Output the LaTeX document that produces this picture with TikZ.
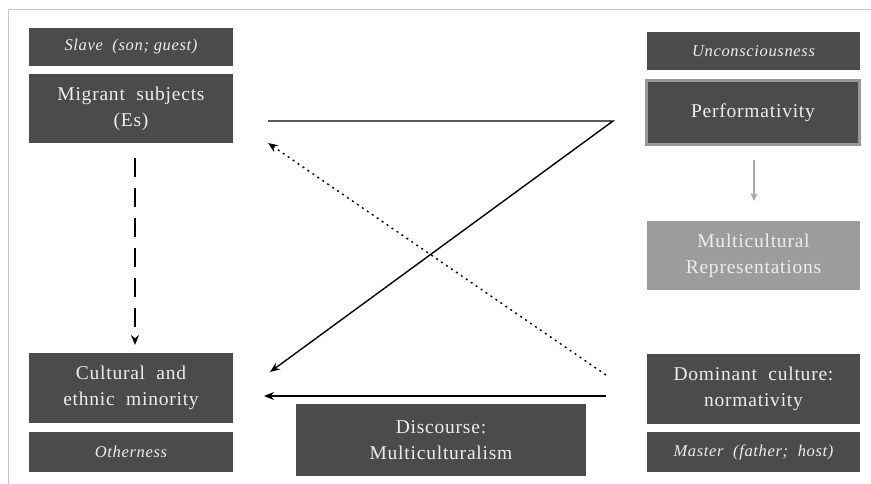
\documentclass[tikz,border=0pt]{standalone}
\usepackage{fontspec}
\setmainfont{Liberation Serif}
\newfontfamily\widefont[LetterSpace=4]{Liberation Serif}
\usetikzlibrary{arrows.meta}
\definecolor{boxdark}{HTML}{4B4B4B}
\definecolor{boxlight}{HTML}{9C9C9C}
\definecolor{framegray}{HTML}{C8C8C8}
\definecolor{txtlight}{HTML}{EDEDED}
\begin{document}
\begin{tikzpicture}[x=1pt,y=-1pt,
  box/.style={fill=boxdark,draw=none,text=txtlight,align=center,inner sep=0pt,
    font=\widefont\fontsize{19.5}{26}\selectfont},
  ibox/.style={box,font=\widefont\fontsize{16.5}{20}\selectfont\itshape},
  lbox/.style={box,fill=boxlight},
  conn/.style={line width=1.4pt,-{Stealth[length=10pt,width=8pt]}},
]
\useasboundingbox (0,0) rectangle (871,484);
\fill[white] (0,0) rectangle (871,484);
\draw[framegray,line width=1pt] (8,484) -- (8,10) -- (871,10);

\node[ibox,minimum width=204,minimum height=38] (slave) at (131,47) {Slave\ \ (son;\ guest)};
\node[box,minimum width=204,minimum height=69] (migrant) at (131,108.5) {Migrant\ \ subjects\\(Es)};
\node[ibox,minimum width=213,minimum height=38] (uncon) at (753.5,51) {Unconsciousness};
\node[box,draw=gray!80,line width=2.5pt,minimum width=213,minimum height=64] (perf) at (753,112.5) {Performativity};
\node[lbox,minimum width=213,minimum height=69] (multi) at (753.5,255.5) {Multicultural\\Representations};
\node[box,minimum width=204,minimum height=70] (cult) at (131,388) {Cultural\ \ and\\ethnic\ \ minority};
\node[ibox,minimum width=204,minimum height=40] (other) at (131,452) {Otherness};
\node[box,minimum width=290,minimum height=72] (disc) at (441,440) {Discourse:\\Multiculturalism};
\node[box,minimum width=213,minimum height=70] (dom) at (753.5,389) {Dominant\ \ culture:\\normativity};
\node[ibox,minimum width=213,minimum height=40] (master) at (753.5,452) {Master\ \ (father;\ \ host)};

\coordinate (zs) at (268,121);
\coordinate (zc) at (613,121);
\coordinate (ze) at (270,372);
\draw[conn] (zs) -- (zc) -- (ze);

\coordinate (ds) at (606,375);
\coordinate (de) at (268,143);
\draw[line width=1.4pt,dash pattern=on 2pt off 4pt,-{Stealth[length=10pt,width=8pt]}] (ds) -- (de);

\coordinate (hs) at (606,396);
\coordinate (he) at (264,396);
\draw[conn,line width=1.9pt] (hs) -- (he);

\coordinate (vs) at (135,158);
\coordinate (ve) at (135,345);
\draw[line width=1.6pt,dash pattern=on 19pt off 11pt,-{Stealth[length=10pt,width=8pt]}] (vs) -- (ve);

\coordinate (gs) at (754,160);
\coordinate (ge) at (754,201);
\draw[gray!70,line width=1.2pt,-{Stealth[length=8pt,width=7pt]}] (gs) -- (ge);
\end{tikzpicture}
\end{document}
